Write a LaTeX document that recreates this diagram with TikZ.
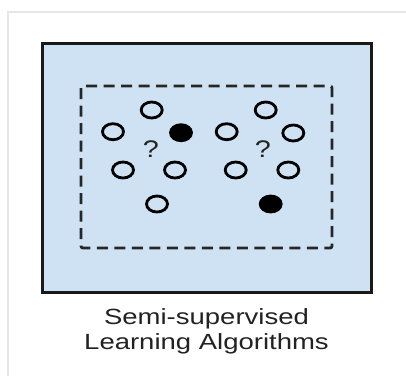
\documentclass[tikz,border=0pt]{standalone}
\usepackage{fontspec}
\setmainfont{Liberation Sans}
\usepackage{tikz}
\usetikzlibrary{shapes.geometric}
\definecolor{panelblue}{HTML}{CFE2F3}
\definecolor{framegray}{HTML}{E6E6E6}
\definecolor{textgray}{HTML}{222222}

\begin{document}
\begin{tikzpicture}[x=1pt, y=-1pt, line width=2.8pt,
  unlabeled/.style={draw=black, ellipse, inner sep=0pt, minimum width=21pt, minimum height=16pt},
  labeled/.style={unlabeled, fill=black},
  query/.style={font=\fontsize{24}{26}\selectfont, text=textgray, xscale=1.2, transform shape, inner sep=0pt}]
  \useasboundingbox (0,0) rectangle (406,376);
  % marco exterior gris claro
  \draw[framegray, line width=2pt] (8,376) -- (8,12) -- (406,12);
  % panel azul
  \draw[fill=panelblue, draw=black!90, line width=3pt] (42,43) rectangle (371,292);
  % region punteada
  \draw[dashed, black!85, dash pattern=on 11pt off 6.5pt, rounded corners=2pt] (81,86) rectangle (332,248);
  % grupo izquierdo
  \node[unlabeled] (la) at (151.7,110) {};
  \node[unlabeled] (lb) at (113,131.7) {};
  \node[labeled]   (lc) at (181,132.7) {};
  \node[unlabeled] (ld) at (123,170) {};
  \node[unlabeled] (le) at (175,170) {};
  \node[unlabeled] (lf) at (157,204) {};
  \node[query]     (lq) at (151,149) {?};
  % grupo derecho
  \node[unlabeled] (ra) at (265.7,110) {};
  \node[unlabeled] (rb) at (226.7,131.7) {};
  \node[unlabeled] (rc) at (293.3,133) {};
  \node[unlabeled] (rd) at (235.7,170) {};
  \node[unlabeled] (re) at (288.3,170) {};
  \node[labeled]   (rf) at (270.7,204) {};
  \node[query]     (rq) at (263,149) {?};
  % titulo
  \node[font=\fontsize{22}{25}\selectfont, text=textgray, align=center, xscale=1.25, transform shape] (title) at (206.5,331) {Semi-supervised\\Learning Algorithms};
\end{tikzpicture}
\end{document}
